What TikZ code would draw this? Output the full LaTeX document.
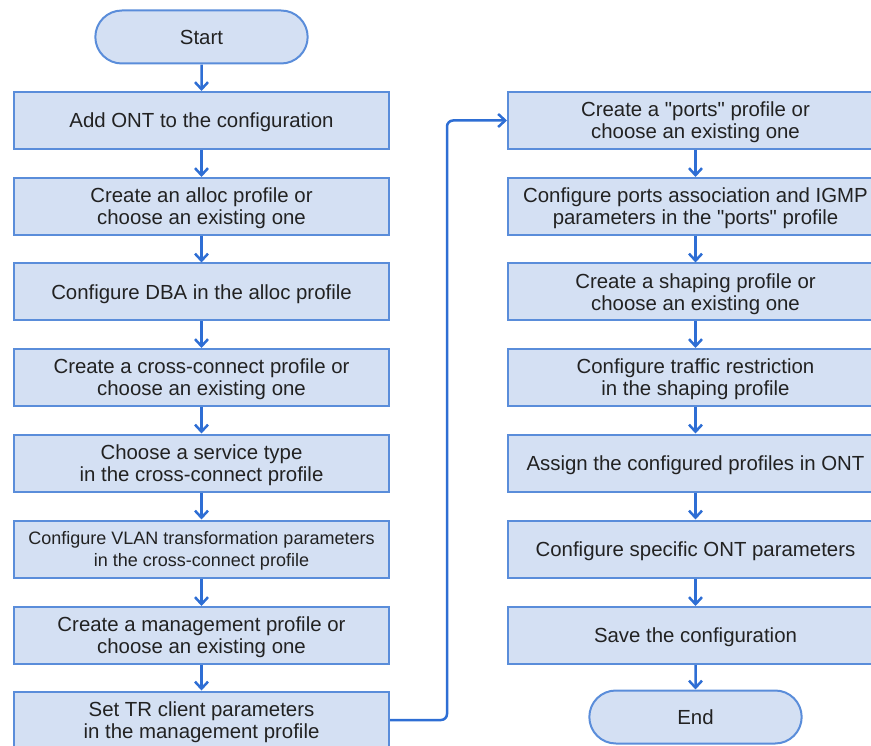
\documentclass[tikz,border=0pt]{standalone}
\usepackage{fontspec}
\setmainfont{Liberation Sans}
\usetikzlibrary{arrows.meta,shapes.misc}
\definecolor{boxfill}{HTML}{D4E0F3}
\definecolor{boxline}{HTML}{5A8DDA}
\definecolor{flowblue}{HTML}{2E6ED4}
\definecolor{txt}{HTML}{222222}

\begin{document}
\begin{tikzpicture}[x=1pt, y=-1pt, >={Straight Barb[length=7pt,width=13pt]},
        block/.style={rectangle, draw=boxline, fill=boxfill, line width=2pt, minimum width=375pt, minimum height=57pt, inner sep=0pt, text depth=0pt, align=center, text=txt, font=\fontsize{20.4}{22}\selectfont},
        smalltext/.style={font=\fontsize{18}{22}\selectfont},
        term/.style={rounded rectangle, draw=boxline, fill=boxfill, line width=2pt, minimum width=219pt, minimum height=53pt, text depth=0pt, text=txt, font=\fontsize{20.4}{22}\selectfont},
        flow/.style={->, draw=flowblue, line width=2.5pt}
    ]
    \useasboundingbox (0,0) rectangle (871,746);
    \clip (0,0) rectangle (871,746);

    % Left column
    \node[term] (start) at (201.5, 37) {Start};
    \node[block] (b1) at (201.5, 120.5) {Add ONT to the configuration};
    \node[block] (b2) at (201.5, 206.5) {Create an alloc profile or\\choose an existing one};
    \node[block] (b3) at (201.5, 292) {Configure DBA in the alloc profile};
    \node[block] (b4) at (201.5, 377.5) {Create a cross-connect profile or\\choose an existing one};
    \node[block] (b5) at (201.5, 463) {Choose a service type\\in the cross-connect profile};
    \node[block, smalltext] (b6) at (201.5, 549) {Configure VLAN transformation parameters\\in the cross-connect profile};
    \node[block] (b7) at (201.5, 635.5) {Create a management profile or\\choose an existing one};
    \node[block] (b8) at (201.5, 720) {Set TR client parameters\\in the management profile};

    \draw[flow] (start) -- (b1);
    \draw[flow] (b1) -- (b2);
    \draw[flow] (b2) -- (b3);
    \draw[flow] (b3) -- (b4);
    \draw[flow] (b4) -- (b5);
    \draw[flow] (b5) -- (b6);
    \draw[flow] (b6) -- (b7);
    \draw[flow] (b7) -- (b8);

    % Right column
    \node[block] (r1) at (695.5, 120.5) {Create a \textquotedbl ports\textquotedbl{} profile or\\choose an existing one};
    \node[block] (r2) at (695.5, 206.5) {Configure ports association and IGMP\\parameters in the \textquotedbl ports\textquotedbl{} profile};
    \node[block] (r3) at (695.5, 292) {Create a shaping profile or\\choose an existing one};
    \node[block] (r4) at (695.5, 377.5) {Configure traffic restriction\\in the shaping profile};
    \node[block] (r5) at (695.5, 463) {Assign the configured profiles in ONT};
    \node[block] (r6) at (695.5, 549) {Configure specific ONT parameters};
    \node[block] (r7) at (695.5, 635.5) {Save the configuration};
    \node[term] (stop) at (695.5, 717) {End};

    \draw[flow] (r1) -- (r2);
    \draw[flow] (r2) -- (r3);
    \draw[flow] (r3) -- (r4);
    \draw[flow] (r4) -- (r5);
    \draw[flow] (r5) -- (r6);
    \draw[flow] (r6) -- (r7);
    \draw[flow] (r7) -- (stop);

    % Column link
    \draw[flow, rounded corners=6pt] (b8.east) -- ++(57,0) |- (r1.west);
\end{tikzpicture}
\end{document}
